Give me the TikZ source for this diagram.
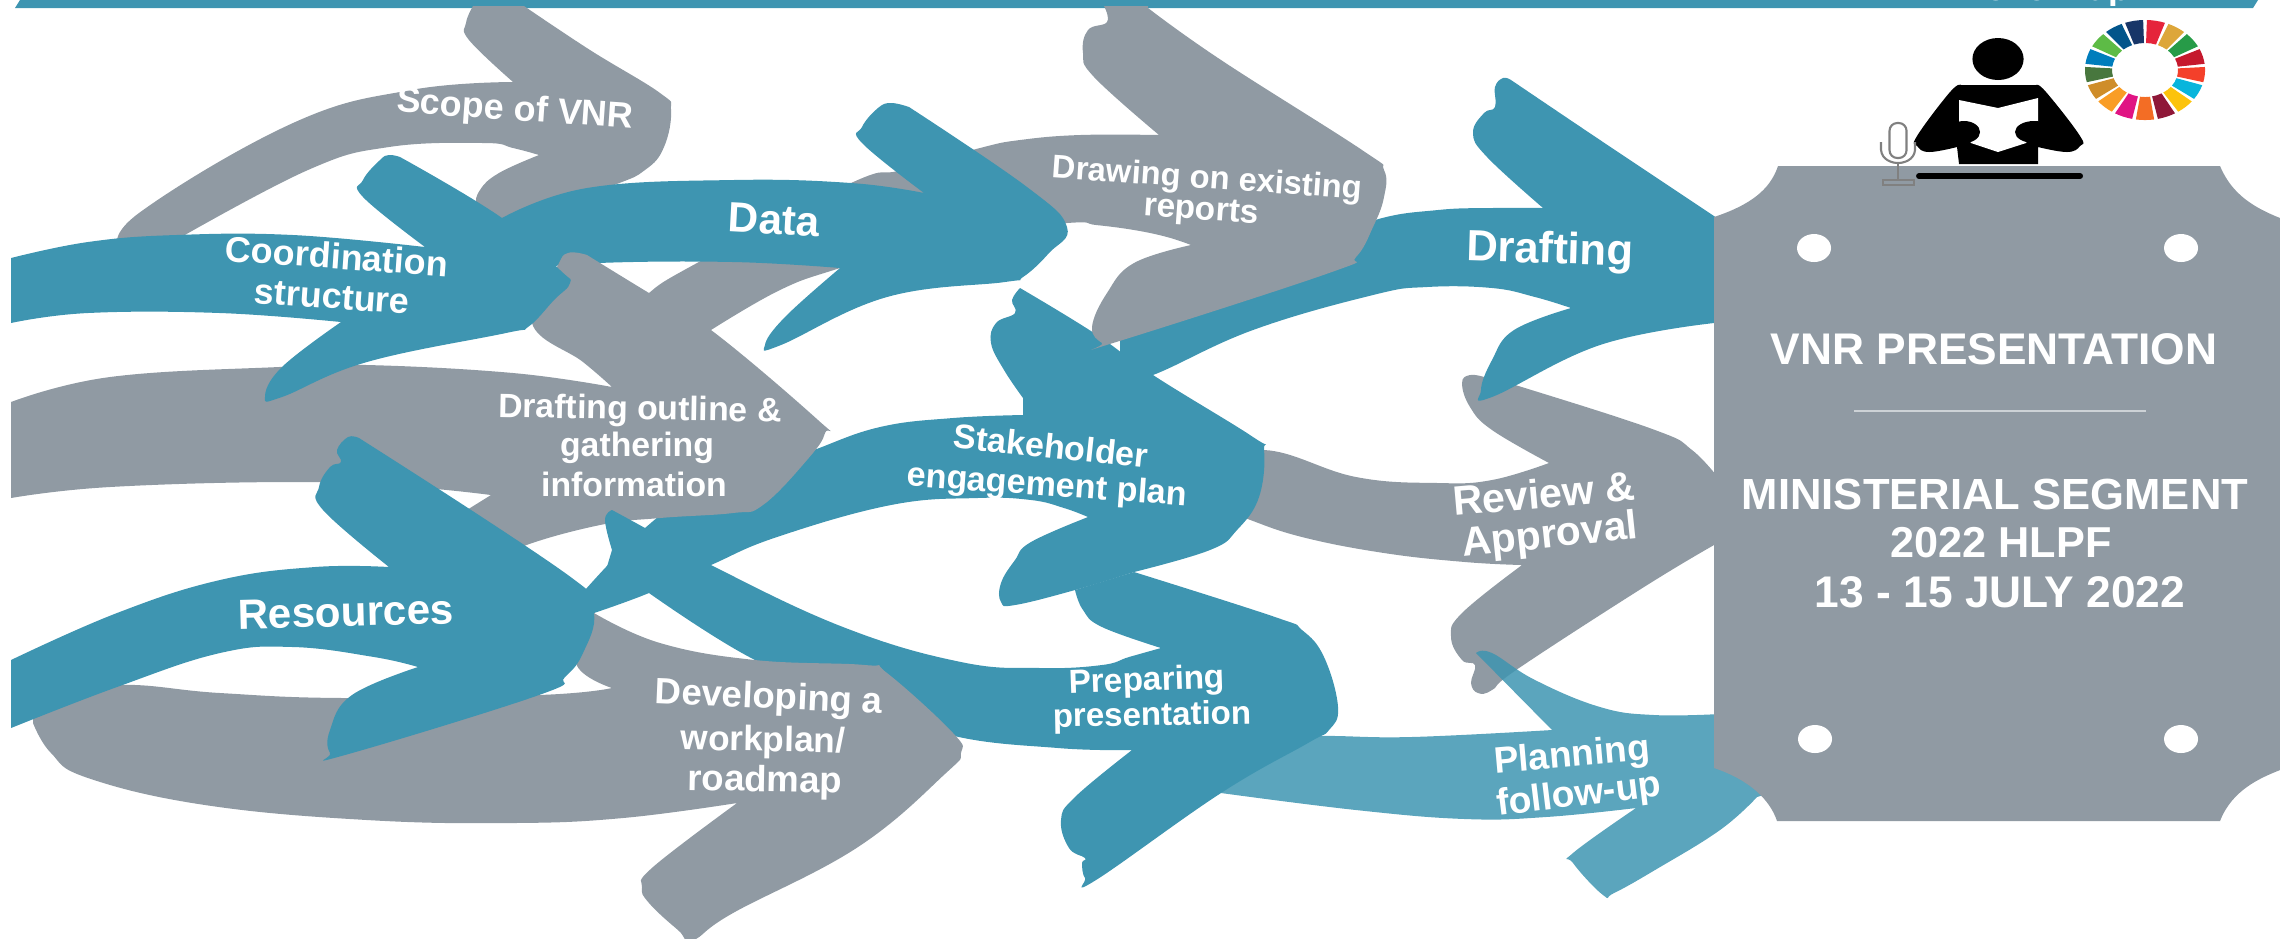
\documentclass[tikz,border=0pt]{standalone}
\usepackage{fontspec}
\setmainfont{Liberation Sans}
\definecolor{tealc}{HTML}{3E95B1}
\definecolor{grayc}{HTML}{909AA3}
\definecolor{sdg1}{HTML}{E5243B}\definecolor{sdg2}{HTML}{DDA63A}\definecolor{sdg3}{HTML}{279B48}
\definecolor{sdg4}{HTML}{C5192D}\definecolor{sdg5}{HTML}{F4402A}\definecolor{sdg6}{HTML}{08B5DC}
\definecolor{sdg7}{HTML}{FCC30B}\definecolor{sdg8}{HTML}{8F1838}\definecolor{sdg9}{HTML}{F36D25}
\definecolor{sdg10}{HTML}{E01483}\definecolor{sdg11}{HTML}{F99D26}\definecolor{sdg12}{HTML}{CF8D2A}
\definecolor{sdg13}{HTML}{48773E}\definecolor{sdg14}{HTML}{007DBC}\definecolor{sdg15}{HTML}{5DBB46}
\definecolor{sdg16}{HTML}{02558B}\definecolor{sdg17}{HTML}{183668}
\tikzset{
  cv/.style={smooth,tension=0.7},
  lab/.style={text=white,font=\fontsize{#1}{#1}\selectfont\bfseries,inner sep=0pt,anchor=center},
  tarrow/.style={fill=tealc},
  garrow/.style={fill=grayc},
  hole/.style={fill=white}
}
\begin{document}
\begin{tikzpicture}[x=0.01cm,y=-0.01cm]
\useasboundingbox (0,0) rectangle (2280,938);
\clip (0,0) rectangle (2280,938);
% top bar
\fill[tealc] (15,8) -- (20,0) -- (2258,0) -- (2253,8) -- cycle;
\begin{scope}
\clip (1900,0) rectangle (2200,5);
\node[lab=10] (cutoff) at (2052,-9) {follow-up};
\end{scope}

% Scope of VNR
\path[garrow] plot[cv] coordinates {(120,250) (139,213) (293,123) (411,90) (513,82)}
 -- plot[cv] coordinates {(513,82) (469,40) (466,23) (473,6)}
 -- plot[cv] coordinates {(473,6) (524,6)}
 -- plot[cv] coordinates {(524,6) (590,50) (660,93) (671,110) (664,147) (645,170) (609,187) (490,230)}
 -- plot[cv] coordinates {(490,230) (477,207) (480,190) (499,173) (539,155)}
 -- plot[cv] coordinates {(539,155) (513,148) (484,143) (389,147) (308,170) (176,240)} -- cycle;

% Review & Approval
\path[garrow] plot[cv] coordinates {(1200,470) (1264,450) (1356,477) (1438,483) (1492,480) (1549,463)}
 -- plot[cv] coordinates {(1549,463) (1492,430) (1470,407) (1462,383) (1470,375) (1484,377)}
 -- plot[cv] coordinates {(1484,377) (1525,388) (1655,430) (1692,450) (1720,480)}
 -- (1720,540)
 -- plot[cv] coordinates {(1714,545) (1644,587) (1519,668) (1492,690) (1478,693) (1471,683) (1475,665) (1462,660) (1451,637) (1462,613) (1522,565)}
 -- plot[cv] coordinates {(1522,565) (1465,562) (1384,553) (1302,537) (1245,518) (1200,500)} -- cycle;

% Planning follow-up
\path[fill=tealc,fill opacity=0.85] plot[cv] coordinates {(1250,740) (1319,736) (1411,737) (1552,730)}
 -- plot[cv] coordinates {(1552,730) (1476,653)}
 -- plot[cv] coordinates {(1476,653) (1492,653) (1535,680) (1600,707) (1654,715) (1720,714)}
 -- (1720,765) -- (1780,790)
 -- plot[cv] coordinates {(1757,797) (1720,830) (1655,870) (1614,893) (1603,895) (1573,863) (1573,853) (1636,808)}
 -- plot[cv] coordinates {(1636,808) (1546,817) (1465,819) (1356,810) (1221,793)} -- cycle;

% Stakeholder engagement plan
\path[tarrow] plot[cv] coordinates {(585,590) (645,528) (700,490) (763,470) (814,450) (880,427) (953,418) (1023,415)}
 -- plot[cv] coordinates {(1023,398) (1004,370) (991,343) (996,323) (1015,313) (1012,300) (1020,288)}
 -- plot[cv] coordinates {(1020,288) (1094,333) (1153,375) (1253,437) (1264,450) (1259,497) (1237,530) (1210,550) (1134,572)}
 -- plot[cv] coordinates {(1134,572) (1075,590) (1015,605) (1001,602) (1001,583) (1015,560) (1031,542) (1088,517)}
 -- plot[cv] coordinates {(1088,517) (1064,508) (1031,500) (977,498) (891,505) (777,537) (711,565) (649,593) (594,613)} -- cycle;

% Drafting
\path[tarrow] plot[cv] coordinates {(1120,330) (1300,250) (1375,220) (1438,210) (1492,208) (1543,208)}
 -- plot[cv] coordinates {(1543,208) (1487,157) (1473,133) (1484,113) (1495,107) (1495,87) (1503,78) (1511,80)}
 -- plot[cv] coordinates {(1511,80) (1600,140) (1720,220)}
 -- (1720,320)
 -- plot[cv] coordinates {(1714,323) (1600,345) (1492,397) (1481,390) (1492,360) (1514,330) (1571,308)}
 -- plot[cv] coordinates {(1571,308) (1535,297) (1492,288) (1427,287) (1373,295) (1253,330) (1153,375) (1120,380)} -- cycle;

% Drawing on existing reports
\path[garrow] plot[cv] coordinates {(640,310) (649,293) (697,263) (851,183) (902,170) (980,148) (1020,140) (1080,135) (1159,135)}
 -- plot[cv] coordinates {(1159,135) (1094,77) (1083,53) (1088,30) (1107,22) (1104,6)}
 -- (1148,6)
 -- plot[cv] coordinates {(1148,8) (1221,60) (1362,150) (1384,170) (1384,197) (1373,227) (1356,257) (1329,273) (1113,343) (1102,343) (1092,327) (1107,293) (1134,263) (1191,245)}
 -- plot[cv] coordinates {(1191,245) (1167,237) (1134,230) (1096,225) (1067,223) (950,235) (840,268) (780,290) (711,330)} -- cycle;

% Data
\path[tarrow] plot[cv] coordinates {(502,218) (587,188) (733,180) (851,183) (924,193)}
 -- plot[cv] coordinates {(924,193) (862,143) (862,127) (878,108) (891,103) (909,107)}
 -- plot[cv] coordinates {(909,107) (1027,187) (1067,227) (1049,253) (1023,277) (1005,282) (887,297) (781,345) (765,345) (785,317) (840,268)}
 -- plot[cv] coordinates {(840,268) (733,262) (598,263) (520,270)} -- cycle;

% Drafting outline & gathering information
\path[garrow] plot[cv] coordinates {(11,402) (110,377) (279,367) (367,365) (513,373) (612,387)}
 -- plot[cv] coordinates {(612,387) (583,362) (532,323) (557,267) (568,253) (587,255)}
 -- plot[cv] coordinates {(587,255) (649,293) (711,330) (818,420) (825,433) (807,460) (763,505) (733,513) (660,518) (600,525) (521,547) (480,570)}
 -- (462,513) -- (491,495)
 -- plot[cv] coordinates {(491,495) (411,487) (293,482) (110,487) (11,498)} -- cycle;

% Coordination structure
\path[tarrow] plot[cv] coordinates {(11,258) (88,242) (176,235) (293,235) (425,247)}
 -- plot[cv] coordinates {(425,247) (363,197) (363,180) (380,160) (389,155) (400,157)}
 -- plot[cv] coordinates {(400,157) (502,218) (560,270) (570,283) (554,300) (528,327) (506,333) (367,362) (282,397) (265,397) (282,367) (341,322)}
 -- plot[cv] coordinates {(341,322) (220,313) (88,313) (11,323)} -- cycle;

% Preparing presentation
\path[tarrow] plot[cv] coordinates {(612,510) (645,528) (711,565) (843,627) (961,662) (1041,668) (1102,665) (1129,657) (1161,648)}
 -- plot[cv] coordinates {(1161,648) (1102,627) (1083,610) (1075,590)}
 -- plot[cv] coordinates {(1134,572) (1275,617) (1302,630) (1324,657) (1338,707) (1329,730) (1308,743) (1221,793) (1096,880) (1085,878) (1082,863) (1085,858) (1069,848) (1061,820) (1075,797) (1132,750)}
 -- plot[cv] coordinates {(1132,750) (1058,748) (950,735) (860,700) (755,660) (649,593)}
 -- (600,590) -- plot[cv] coordinates {(612,550) (605,520) (612,510)} -- cycle;

% Developing a workplan / roadmap
\path[garrow] plot[cv] coordinates {(33,700) (117,685) (220,693) (345,698) (539,695) (612,688)}
 -- plot[cv] coordinates {(612,688) (576,663) (594,613)}
 -- plot[cv] coordinates {(594,613) (660,643) (755,660) (865,665) (887,673) (953,733) (961,753) (946,773) (858,847) (733,913) (693,940) (678,930) (649,903) (642,887) (653,867) (737,803)}
 -- plot[cv] coordinates {(737,803) (623,818) (513,823) (367,820) (205,805) (88,778) (51,753) (33,723)} -- cycle;

% Resources
\path[tarrow] plot[cv] coordinates {(11,660) (117,613) (220,580) (315,567) (389,567)}
 -- plot[cv] coordinates {(389,567) (323,510) (319,487) (330,467) (341,462) (337,450) (348,437) (359,438)}
 -- plot[cv] coordinates {(359,438) (572,578) (594,613) (583,653) (565,677) (539,695) (345,755) (330,753) (330,730) (352,695) (418,667)}
 -- plot[cv] coordinates {(418,667) (374,657) (293,647) (220,653) (117,687) (11,728)} -- cycle;

% Panel
\fill[grayc] (1714,217) .. controls (1750,205) and (1770,190) .. (1778,166) -- (2220,166)
 .. controls (2232,195) and (2255,208) .. (2280,218) -- (2280,770)
 .. controls (2260,778) and (2232,790) .. (2220,821) -- (1777,821)
 .. controls (1770,800) and (1750,780) .. (1714,768) -- cycle;
\fill[hole] (1814,248) ellipse [x radius=17,y radius=14];
\fill[hole] (2181,248) ellipse [x radius=17,y radius=14];
\fill[hole] (1815,739) ellipse [x radius=17,y radius=14];
\fill[hole] (2181,739) ellipse [x radius=17,y radius=14];
\draw[white!55!grayc,line width=0.8pt] (1854,411) -- (2146,411);

% Speaker
\fill[black] (1998,59) ellipse [x radius=25.6,y radius=21];
\fill[black] plot[cv] coordinates {(1961,85) (1950,92) (1917,136) (1917,146) (1929,152) (1957,147)}
 -- (1959,164) -- (2038,164) -- (2038,147)
 -- plot[cv] coordinates {(2038,147) (2067,152) (2080,146) (2080,136) (2046,92) (2036,85)} -- cycle;
\fill[white] (1959,100) -- (1998,108) -- (2038,98) -- (2038,125) -- (2026,143) -- (1998,152) -- (1971,143) -- (1959,125) -- cycle;
\fill[black] (1964,132) ellipse [x radius=16,y radius=11];
\fill[black] (2034,132) ellipse [x radius=19,y radius=11];
\draw[black,line width=1.7pt,line cap=round] (1919,176) -- (2080,176);

% Microphone
\draw[gray,line width=0.6pt,rounded corners=2.2pt] (1889.5,123) rectangle (1906.5,158);
\draw[gray,line width=0.6pt] (1881,142) -- (1881,150) .. controls (1882,160) and (1892,163) .. (1898,163) .. controls (1904,163) and (1914,160) .. (1915,150) -- (1915,142);
\draw[gray,line width=0.6pt] (1898,163) -- (1898,180);
\draw[gray,line width=0.6pt] (1883,180) rectangle (1914,185);

% SDG wheel
\foreach \i in {1,...,17}{
  \pgfmathsetmacro{\aa}{90-(\i-1)*360/17-1.8}
  \pgfmathsetmacro{\bb}{90-\i*360/17+1.8}
  \fill[sdg\i,shift={(2145,70)}] (\aa:0.6cm and 0.5cm) arc[start angle=\aa,end angle=\bb,x radius=0.6cm,y radius=0.5cm]
    -- (\bb:0.33cm and 0.27cm) arc[start angle=\bb,end angle=\aa,x radius=0.33cm,y radius=0.27cm] -- cycle;
}

% Labels
\node[lab=10.2,rotate=-4] (t1) at (515,111) {Scope of VNR};
\node[lab=10.2,rotate=-4] (t2) at (337,256) {Coordination};
\node[lab=10.2,rotate=-4] (t3) at (332,297) {structure};
\node[lab=12,rotate=-3] (t4) at (774,220) {Data};
\node[lab=9.3,rotate=-4] (t5) at (1207,180) {Drawing on existing};
\node[lab=9.5,rotate=-4] (t6) at (1201,212) {reports};
\node[lab=12.4,rotate=-1.7] (t7) at (1550,252) {Drafting};
\node[lab=9.6,rotate=-1] (t8) at (640,411) {Drafting outline \&};
\node[lab=9.6] (t9) at (637,448) {gathering};
\node[lab=9.6] (t10) at (634,484) {information};
\node[lab=9.7,rotate=-6] (t11) at (1051,446) {Stakeholder};
\node[lab=9.7,rotate=-4] (t12) at (1047,487) {engagement plan};
\node[lab=12,rotate=1.5] (t13) at (346,612) {Resources};
\node[lab=10.4,rotate=-2.5] (t14) at (769,699) {Developing a};
\node[lab=10,rotate=-1] (t15) at (763,742) {workplan/};
\node[lab=10.4,rotate=-1] (t16) at (765,782) {roadmap};
\node[lab=9.5,rotate=2] (t17) at (1147,682) {Preparing};
\node[lab=9.4,rotate=1] (t18) at (1152,717) {presentation};
\node[lab=11.7,rotate=5] (t19) at (1544,493) {Review \&};
\node[lab=11.6,rotate=6] (t20) at (1550,537) {Approval};
\node[lab=10.5,rotate=5] (t21) at (1572,757) {Planning};
\node[lab=10.6,rotate=7] (t22) at (1579,796) {follow-up};
\node[lab=12.6] (p1) at (1994,349) {VNR PRESENTATION};
\node[lab=12.4] (p2) at (1995,494) {MINISTERIAL SEGMENT};
\node[lab=12.3] (p3) at (2001,543) {2022 HLPF};
\node[lab=12.6] (p4) at (2000,592) {13 - 15 JULY 2022};
\end{tikzpicture}
\end{document}
